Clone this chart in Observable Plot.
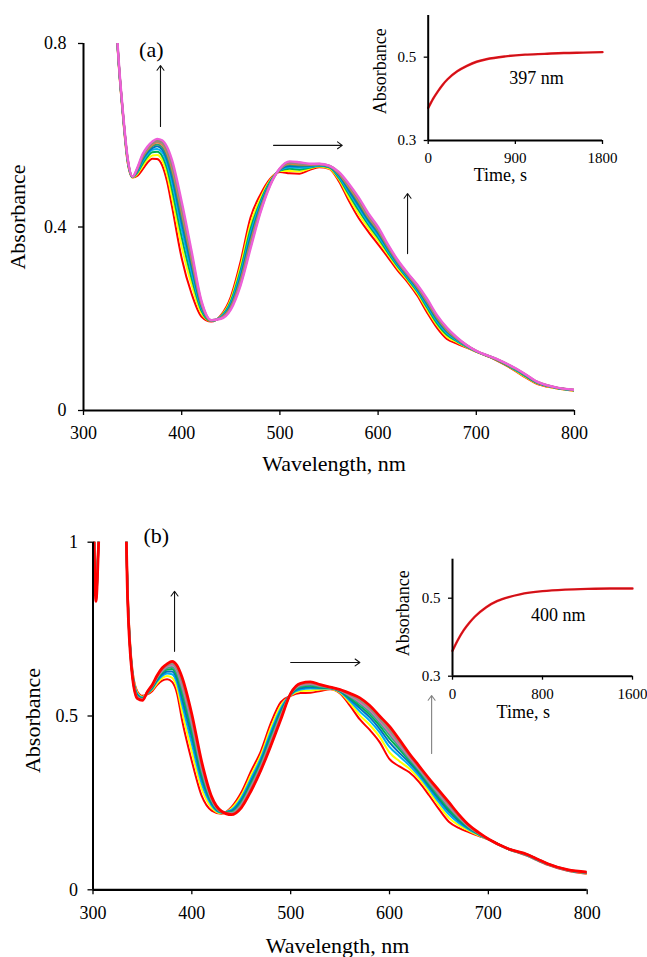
<!DOCTYPE html>
<html>
<head>
<meta charset="utf-8">
<script src="https://cdn.jsdelivr.net/npm/d3@7"></script>
<script src="https://cdn.jsdelivr.net/npm/@observablehq/plot@0.6"></script>
<style>
  html, body { margin: 0; padding: 0; background: #fff; }
  #figure { position: relative; width: 647px; height: 957px; overflow: hidden; background: #fff; }
  #figure svg, #figure svg text { font-family: 'Liberation Serif', 'Times New Roman', Times, serif; }
</style>
</head>
<body>
<div id="figure"></div>
<script>
// ---- Panel (a): UV-vis spectra recorded during the reaction (first scan -> last scan)
const wavelengthsA = [330,335,340,345,350,355,360,365,370,375,380,385,390,400,410,420,430,440,450,460,470,480,490,500,510,520,530,540,550,560,570,580,590,600,610,620,630,640,650,660,670,680,690,700,720,740,750,760,780,800];
const scansA = [
  [1.000,0.780,0.645,0.540,0.508,0.512,0.525,0.540,0.549,0.548,0.535,0.500,0.446,0.332,0.255,0.205,0.194,0.208,0.248,0.325,0.420,0.470,0.505,0.520,0.517,0.516,0.524,0.530,0.527,0.500,0.458,0.420,0.390,0.362,0.334,0.305,0.280,0.250,0.213,0.180,0.156,0.146,0.137,0.128,0.110,0.086,0.072,0.060,0.049,0.043],
  [1.000,0.782,0.647,0.542,0.508,0.516,0.532,0.547,0.556,0.557,0.546,0.515,0.466,0.357,0.274,0.212,0.195,0.206,0.242,0.315,0.406,0.462,0.502,0.522,0.522,0.521,0.527,0.532,0.528,0.504,0.465,0.429,0.398,0.370,0.340,0.310,0.284,0.255,0.219,0.186,0.161,0.149,0.138,0.128,0.111,0.087,0.073,0.061,0.049,0.043],
  [1.000,0.784,0.649,0.544,0.509,0.519,0.537,0.553,0.563,0.564,0.555,0.528,0.483,0.378,0.289,0.218,0.195,0.205,0.238,0.306,0.395,0.455,0.499,0.523,0.527,0.525,0.529,0.533,0.530,0.507,0.472,0.437,0.405,0.376,0.344,0.314,0.287,0.259,0.224,0.190,0.165,0.151,0.139,0.129,0.111,0.088,0.075,0.062,0.050,0.044],
  [1.000,0.785,0.650,0.545,0.509,0.521,0.542,0.558,0.568,0.570,0.563,0.538,0.498,0.395,0.302,0.223,0.196,0.204,0.234,0.299,0.385,0.450,0.497,0.524,0.530,0.529,0.531,0.534,0.531,0.510,0.477,0.443,0.410,0.381,0.348,0.317,0.290,0.262,0.228,0.194,0.169,0.153,0.140,0.129,0.112,0.089,0.076,0.063,0.050,0.044],
  [1.000,0.786,0.651,0.546,0.509,0.523,0.546,0.562,0.572,0.576,0.569,0.547,0.510,0.410,0.314,0.227,0.196,0.203,0.230,0.292,0.377,0.445,0.496,0.525,0.533,0.532,0.533,0.535,0.531,0.513,0.481,0.448,0.415,0.386,0.352,0.320,0.293,0.265,0.232,0.198,0.172,0.155,0.141,0.129,0.112,0.090,0.076,0.063,0.050,0.044],
  [1.000,0.787,0.652,0.547,0.509,0.525,0.549,0.566,0.576,0.580,0.574,0.555,0.520,0.422,0.323,0.231,0.196,0.202,0.228,0.287,0.370,0.441,0.494,0.526,0.536,0.534,0.534,0.536,0.532,0.515,0.485,0.453,0.419,0.390,0.354,0.322,0.295,0.268,0.235,0.200,0.174,0.156,0.141,0.129,0.112,0.090,0.077,0.064,0.050,0.044],
  [1.000,0.788,0.653,0.548,0.510,0.527,0.552,0.568,0.579,0.584,0.579,0.561,0.528,0.432,0.330,0.233,0.196,0.202,0.225,0.283,0.365,0.438,0.493,0.526,0.538,0.536,0.535,0.536,0.533,0.516,0.488,0.457,0.422,0.393,0.357,0.324,0.296,0.269,0.237,0.203,0.176,0.157,0.142,0.130,0.112,0.091,0.078,0.064,0.051,0.045],
  [1.000,0.789,0.654,0.549,0.510,0.528,0.554,0.571,0.582,0.587,0.583,0.566,0.535,0.440,0.337,0.236,0.197,0.201,0.223,0.279,0.360,0.435,0.492,0.527,0.540,0.538,0.536,0.537,0.533,0.518,0.491,0.460,0.425,0.395,0.359,0.325,0.298,0.271,0.239,0.205,0.178,0.158,0.142,0.130,0.113,0.091,0.078,0.064,0.051,0.045],
  [1.000,0.789,0.654,0.549,0.510,0.529,0.556,0.573,0.584,0.589,0.586,0.571,0.541,0.448,0.342,0.238,0.197,0.201,0.222,0.276,0.356,0.432,0.491,0.528,0.541,0.540,0.537,0.538,0.534,0.519,0.493,0.462,0.428,0.398,0.360,0.327,0.299,0.273,0.241,0.206,0.180,0.159,0.143,0.130,0.113,0.092,0.079,0.065,0.051,0.045],
  [1.000,0.790,0.655,0.550,0.510,0.530,0.558,0.575,0.586,0.592,0.589,0.575,0.547,0.455,0.348,0.240,0.197,0.200,0.220,0.273,0.352,0.430,0.490,0.528,0.543,0.541,0.538,0.538,0.534,0.520,0.495,0.465,0.430,0.400,0.362,0.328,0.300,0.274,0.243,0.208,0.181,0.160,0.143,0.130,0.113,0.092,0.079,0.065,0.051,0.045]
];
const colorsA = ["#ff0000","#ffff00","#00b050","#00b0f0","#0070c0","#2e9e6e","#e08040","#8c8c8c","#9a8a70","#ee5fd8"];

// Inset (a): absorbance at 397 nm versus time
const timeA = [0,50,100,150,200,300,400,500,600,800,1000,1200,1400,1600,1800];
const abs397 = [0.378,0.400,0.418,0.434,0.447,0.466,0.479,0.489,0.495,0.502,0.506,0.508,0.510,0.511,0.512];

// ---- Panel (b)
const wavelengthsB = [300,303,306,310,320,330,335,340,345,350,355,360,365,370,375,380,385,390,400,410,420,430,440,450,460,470,480,490,500,510,520,530,540,550,560,570,580,590,600,610,620,630,640,650,660,670,680,690,700,720,740,750,760,780,800];
const scansB = [
  [1.250,0.860,1.050,1.300,1.500,1.500,0.870,0.630,0.570,0.558,0.562,0.572,0.590,0.602,0.606,0.598,0.565,0.490,0.370,0.270,0.228,0.219,0.238,0.280,0.342,0.400,0.480,0.540,0.558,0.566,0.567,0.572,0.577,0.565,0.530,0.490,0.460,0.425,0.376,0.355,0.338,0.310,0.272,0.232,0.196,0.178,0.166,0.155,0.145,0.117,0.097,0.084,0.072,0.055,0.046],
  [1.240,0.854,1.044,1.300,1.500,1.500,0.864,0.626,0.566,0.555,0.564,0.576,0.595,0.609,0.615,0.610,0.581,0.514,0.397,0.290,0.236,0.220,0.234,0.271,0.331,0.389,0.467,0.530,0.559,0.572,0.573,0.576,0.578,0.567,0.537,0.502,0.474,0.440,0.395,0.370,0.349,0.319,0.282,0.243,0.207,0.186,0.170,0.157,0.145,0.117,0.098,0.085,0.073,0.056,0.047],
  [1.232,0.849,1.039,1.300,1.500,1.500,0.859,0.623,0.563,0.553,0.565,0.579,0.600,0.615,0.622,0.620,0.595,0.535,0.420,0.306,0.243,0.222,0.230,0.264,0.321,0.380,0.456,0.522,0.561,0.576,0.579,0.579,0.579,0.569,0.543,0.513,0.486,0.453,0.411,0.384,0.358,0.327,0.290,0.252,0.217,0.192,0.174,0.159,0.145,0.117,0.098,0.085,0.073,0.056,0.048],
  [1.225,0.845,1.035,1.300,1.500,1.500,0.855,0.620,0.560,0.551,0.566,0.581,0.604,0.620,0.628,0.628,0.606,0.552,0.439,0.320,0.248,0.223,0.227,0.258,0.313,0.372,0.447,0.515,0.562,0.580,0.583,0.581,0.580,0.571,0.548,0.522,0.496,0.463,0.424,0.394,0.366,0.334,0.297,0.260,0.225,0.198,0.177,0.160,0.146,0.118,0.099,0.086,0.074,0.057,0.049],
  [1.219,0.841,1.031,1.300,1.500,1.500,0.851,0.617,0.557,0.550,0.567,0.583,0.607,0.625,0.634,0.635,0.615,0.567,0.455,0.332,0.253,0.223,0.224,0.252,0.306,0.365,0.439,0.509,0.562,0.584,0.587,0.583,0.581,0.572,0.552,0.529,0.504,0.472,0.435,0.404,0.372,0.339,0.302,0.266,0.231,0.203,0.179,0.161,0.146,0.118,0.100,0.087,0.074,0.057,0.049],
  [1.214,0.838,1.028,1.300,1.500,1.500,0.848,0.615,0.555,0.549,0.568,0.585,0.610,0.628,0.638,0.641,0.623,0.579,0.469,0.342,0.257,0.224,0.222,0.248,0.300,0.360,0.433,0.504,0.563,0.586,0.590,0.585,0.581,0.573,0.556,0.535,0.511,0.480,0.445,0.411,0.377,0.344,0.307,0.271,0.237,0.207,0.181,0.162,0.146,0.118,0.100,0.087,0.074,0.057,0.050],
  [1.210,0.836,1.026,1.300,1.500,1.500,0.846,0.614,0.554,0.548,0.569,0.587,0.612,0.631,0.642,0.646,0.630,0.589,0.479,0.349,0.260,0.225,0.220,0.244,0.296,0.355,0.427,0.500,0.564,0.589,0.592,0.587,0.582,0.574,0.558,0.540,0.517,0.486,0.452,0.417,0.382,0.347,0.311,0.276,0.241,0.210,0.183,0.163,0.146,0.118,0.100,0.087,0.074,0.057,0.050],
  [1.206,0.834,1.024,1.300,1.500,1.500,0.844,0.612,0.552,0.547,0.569,0.588,0.614,0.634,0.645,0.650,0.635,0.597,0.489,0.356,0.263,0.225,0.219,0.241,0.292,0.352,0.423,0.496,0.564,0.591,0.594,0.588,0.582,0.575,0.561,0.545,0.522,0.491,0.459,0.423,0.386,0.351,0.314,0.280,0.245,0.212,0.185,0.164,0.146,0.118,0.101,0.088,0.075,0.058,0.050],
  [1.203,0.832,1.022,1.300,1.500,1.500,0.842,0.611,0.551,0.546,0.570,0.589,0.615,0.636,0.647,0.654,0.640,0.605,0.497,0.362,0.266,0.226,0.217,0.239,0.288,0.348,0.419,0.493,0.565,0.592,0.596,0.589,0.583,0.575,0.563,0.548,0.526,0.496,0.464,0.427,0.389,0.353,0.317,0.283,0.249,0.215,0.186,0.164,0.146,0.118,0.101,0.088,0.075,0.058,0.051],
  [1.200,0.830,1.020,1.300,1.500,1.500,0.840,0.610,0.550,0.545,0.570,0.590,0.617,0.638,0.650,0.657,0.645,0.612,0.505,0.368,0.268,0.226,0.216,0.236,0.285,0.345,0.415,0.490,0.565,0.594,0.598,0.590,0.583,0.576,0.565,0.552,0.530,0.500,0.470,0.432,0.392,0.356,0.320,0.286,0.252,0.217,0.187,0.165,0.146,0.118,0.101,0.088,0.075,0.058,0.051]
];
const colorsB = ["#ff0000","#ffff00","#00b0f0","#0070c0","#00b050","#3aa88a","#d070b0","#8c8c8c","#a09070","#ff0000"];

// Inset (b): absorbance at 400 nm versus time
const timeB = [0,50,100,150,200,300,400,500,600,800,1000,1200,1400,1600];
const abs400 = [0.365,0.394,0.418,0.437,0.453,0.477,0.493,0.503,0.510,0.518,0.522,0.524,0.525,0.525];

const wavelengthTicks = [300,400,500,600,700,800];

const serif = "'Liberation Serif', 'Times New Roman', Times, serif";
const fig = document.getElementById("figure");

function svgStyle(left, top) {
  return {position: "absolute", left: left + "px", top: top + "px", background: "none",
          overflow: "visible", fontFamily: serif, color: "black"};
}

function arrowMark(a, stroke) {
  return Plot.arrow([a], {x1: "x1", y1: "y1", x2: "x2", y2: "y2", stroke, strokeWidth: 1.1,
                          headLength: 8, headAngle: 72});
}

// Axis title helpers: centred on their anchor point
function yTitle(label, dx, dy, size) {
  return Plot.text([label], {text: d => d, frameAnchor: "left", rotate: -90, dx, dy,
                             textAnchor: "middle", lineAnchor: "middle", fontSize: size, fontFamily: serif});
}
function xTitle(label, dx, dy, size) {
  return Plot.text([label], {text: d => d, frameAnchor: "bottom", dx, dy,
                             textAnchor: "middle", lineAnchor: "middle", fontSize: size, fontFamily: serif});
}

function spectraPanel(o) {
  const lines = o.scans.map((scan, k) =>
    Plot.line(scan, {x: o.wl, y: d => d, stroke: o.colors[k],
                     strokeWidth: k === o.scans.length - 1 ? o.lastWidth : 2,
                     curve: "monotone-x", clip: true}));
  return Plot.plot({
    width: 647, height: o.height,
    marginTop: o.m[0], marginRight: o.m[1], marginBottom: o.m[2], marginLeft: o.m[3],
    style: svgStyle(0, o.top),
    x: {domain: [300, 800]},
    y: {domain: [0, o.yMax]},
    marks: [
      ...lines,
      Plot.ruleX([300], {stroke: "black", strokeWidth: 2}),
      Plot.ruleY([0], {stroke: "black", strokeWidth: 2.2}),
      Plot.axisX({ticks: wavelengthTicks, tickSize: 5, tickPadding: 11, fontSize: 18, fontFamily: serif,
                  strokeWidth: 1.3, label: null, tickFormat: d => String(d)}),
      Plot.axisY({ticks: o.yTicks, tickSize: 5, tickPadding: o.yPad, fontSize: 18, fontFamily: serif,
                  strokeWidth: 1.3, label: null, tickFormat: d => String(d)}),
      yTitle("Absorbance", o.yLab[0], o.yLab[1], 22),
      xTitle("Wavelength, nm", o.xLab[0], o.xLab[1], 22),
      Plot.text([o.tag], {text: d => d, x: o.tagAt[0], y: o.tagAt[1], fontSize: 22, fontFamily: serif}),
      ...o.arrows.map(a => arrowMark(a, a.stroke || "#111"))
    ]
  });
}

function kineticsInset(o) {
  return Plot.plot({
    width: 277, height: 200,
    marginTop: o.m[0], marginRight: o.m[1], marginBottom: o.m[2], marginLeft: o.m[3],
    style: svgStyle(370, o.top),
    x: {domain: [0, o.tMax]},
    y: {domain: [0.3, 0.6]},
    marks: [
      Plot.line(o.values, {x: o.time, y: d => d, stroke: "#e8141c", strokeWidth: 2.4, curve: "monotone-x"}),
      Plot.line(o.values, {x: o.time, y: d => d, stroke: "#7a1010", strokeWidth: 0.7, strokeOpacity: 0.5, curve: "monotone-x"}),
      Plot.ruleX([0], {stroke: "black", strokeWidth: 2}),
      Plot.ruleY([0.3], {stroke: "black", strokeWidth: 2}),
      Plot.axisX({ticks: o.xTicks, tickSize: 4, tickPadding: 8, fontSize: 15, fontFamily: serif,
                  strokeWidth: 1.3, label: null, tickFormat: d => String(d)}),
      Plot.axisY({ticks: [0.3, 0.5], tickSize: 4, tickPadding: 8, fontSize: 15, fontFamily: serif,
                  strokeWidth: 1.3, label: null, tickFormat: d => String(d)}),
      yTitle("Absorbance", o.yLab[0], o.yLab[1], 18),
      xTitle("Time, s", o.xLab[0], o.xLab[1], 18),
      Plot.text([o.note], {text: d => d, x: o.noteAt[0], y: o.noteAt[1], fontSize: 18, fontFamily: serif})
    ]
  });
}

fig.append(spectraPanel({
  scans: scansA, wl: wavelengthsA, colors: colorsA, lastWidth: 2.4,
  top: 0, height: 480, m: [43, 73, 70, 83], yMax: 0.8, yTicks: [0, 0.4, 0.8], yPad: 12,
  yLab: [-65.5, -10], xLab: [5, 53], tag: "(a)", tagAt: [369, 0.787],
  arrows: [
    {x1: 378.4, y1: 0.619, x2: 378.4, y2: 0.752},
    {x1: 493.5, y1: 0.578, x2: 563.5, y2: 0.578},
    {x1: 630, y1: 0.342, x2: 630, y2: 0.473}
  ]
}));

fig.append(spectraPanel({
  scans: scansB, wl: wavelengthsB, colors: colorsB, lastWidth: 2.8,
  top: 480, height: 477, m: [61.7, 60.3, 67.7, 92.5], yMax: 1, yTicks: [0, 0.5, 1], yPad: 10,
  yLab: [-60.5, 4.5], xLab: [-2.6, 55.7], tag: "(b)", tagAt: [364, 1.019],
  arrows: [
    {x1: 382.5, y1: 0.686, x2: 382.5, y2: 0.859},
    {x1: 500, y1: 0.654, x2: 570, y2: 0.654},
    {x1: 642.6, y1: 0.392, x2: 642.6, y2: 0.559, stroke: "#808080"}
  ]
}));

fig.append(kineticsInset({
  time: timeA, values: abs397, tMax: 1800, xTicks: [0, 900, 1800],
  top: 0, m: [15, 45, 60, 57.7], yLab: [-47.7, -6.7], xLab: [-15, 35],
  note: "397 nm", noteAt: [1118, 0.449]
}));

fig.append(kineticsInset({
  time: timeB, values: abs400, tMax: 1600, xTicks: [0, 800, 1600],
  top: 520, m: [38.7, 15, 44.3, 82], yLab: [-49.5, -4.5], xLab: [-19.3, 36],
  note: "400 nm", noteAt: [940, 0.456]
}));
</script>
</body>
</html>
